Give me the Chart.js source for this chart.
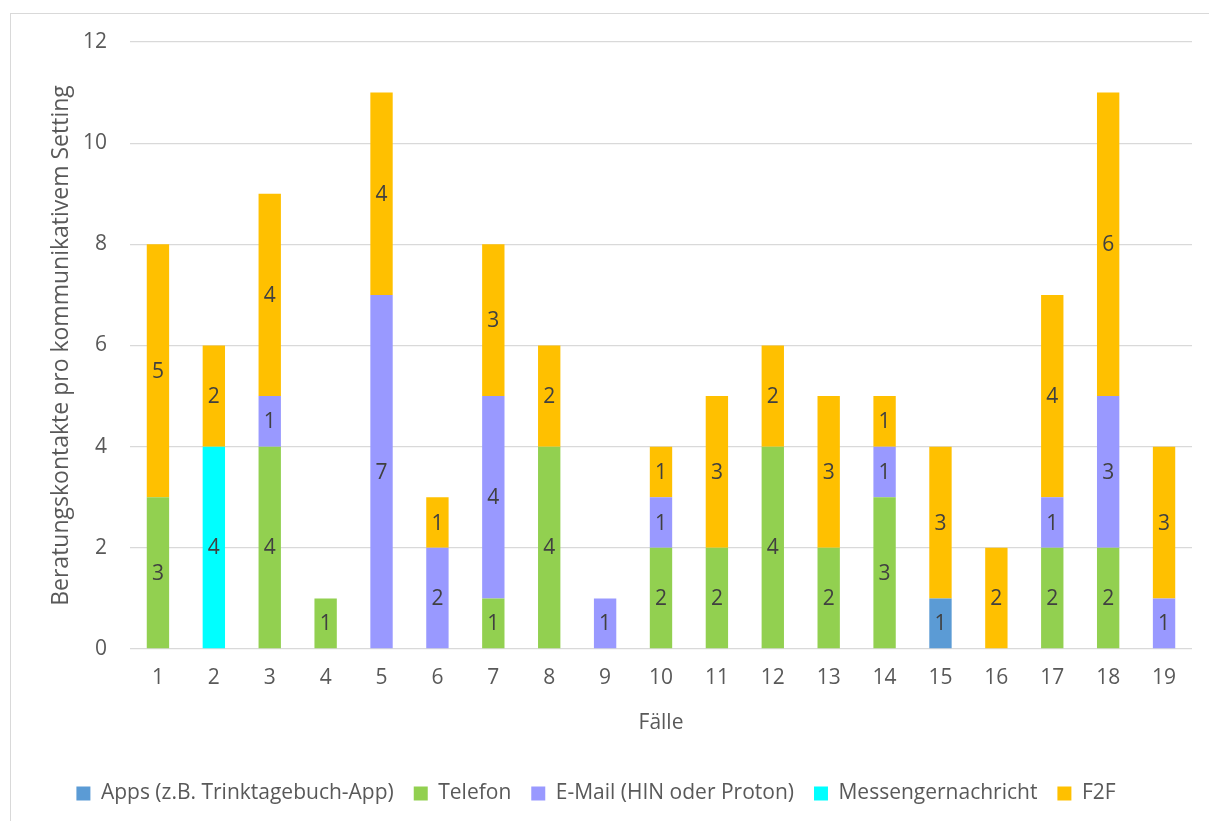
<!DOCTYPE html>
<html>
<head>
<meta charset="utf-8">
<script src="https://cdn.jsdelivr.net/npm/chart.js@4.4.1/dist/chart.umd.min.js"></script>
<style>
  html, body { margin: 0; padding: 0; background: #ffffff; width: 1209px; height: 821px; overflow: hidden; }
  #frame { position: absolute; left: 10px; top: 13px; width: 1300px; height: 900px; border: 1px solid #d9d9d9; box-sizing: border-box; }
  #c { position: absolute; left: 0; top: 0; }
</style>
</head>
<body>
<div id="frame"></div>
<canvas id="c" width="1209" height="821"></canvas>
<script>
// ---- data ----
const cases = ['1','2','3','4','5','6','7','8','9','10','11','12','13','14','15','16','17','18','19'];
const seriesNames = ['Apps (z.B. Trinktagebuch-App)', 'Telefon', 'E-Mail (HIN oder Proton)', 'Messengernachricht', 'F2F'];
const apps      = [0,0,0,0,0,0,0,0,0,0,0,0,0,0,1,0,0,0,0];
const telefon   = [3,0,4,1,0,0,1,4,0,2,2,4,2,3,0,0,2,2,0];
const email     = [0,0,1,0,7,2,4,0,1,1,0,0,0,1,0,0,1,3,1];
const messenger = [0,4,0,0,0,0,0,0,0,0,0,0,0,0,0,0,0,0,0];
const f2f       = [5,2,4,0,4,1,3,2,0,1,3,2,3,1,3,2,4,6,3];
const yTicks = [0,2,4,6,8,10,12];
const xTitle = 'Fälle';
const yTitle = 'Beratungskontakte pro kommunikativem Setting';

// ---- styles ----
const colors = ['#5B9BD5', '#92D050', '#9999FF', '#00FFFF', '#FFC000'];
const FONT = '"Open Sans", "Noto Sans", sans-serif';
const FS = 21;
const textColor = '#595959';

const seriesValues = [apps, telefon, email, messenger, f2f];

const datasets = seriesValues.map((vals, i) => ({
  label: seriesNames[i],
  data: vals,
  backgroundColor: colors[i],
  borderWidth: 0,
  barPercentage: 0.4,
  categoryPercentage: 1.0
}));

const labelPlugin = {
  id: 'barLabels',
  afterDatasetsDraw(chart) {
    const ctx = chart.ctx;
    ctx.save();
    ctx.font = FS + 'px ' + FONT;
    ctx.fillStyle = '#404040';
    ctx.textAlign = 'center';
    ctx.textBaseline = 'middle';
    chart.data.datasets.forEach((ds, di) => {
      const meta = chart.getDatasetMeta(di);
      meta.data.forEach((el, idx) => {
        const v = ds.data[idx];
        if (!v) return;
        const p = el.getProps(['x','y','base'], true);
        ctx.fillText(String(v), p.x, (p.y + p.base) / 2 + 1);
      });
    });
    ctx.restore();
  }
};

const legendFix = {
  id: 'legendFix',
  beforeInit(chart) {
    const lg = chart.legend;
    if (!lg) return;
    const orig = lg.fit;
    lg.fit = function() { orig.call(this); this.height = 58; };
  }
};

new Chart(document.getElementById('c'), {
  type: 'bar',
  data: { labels: cases, datasets },
  options: {
    responsive: false,
    animation: false,
    layout: { padding: { left: 0, right: 17, top: 42, bottom: 0 } },
    plugins: {
      legend: {
        position: 'bottom',
        labels: {
          boxWidth: 14, boxHeight: 14,
          color: textColor,
          font: { family: FONT, size: FS },
          padding: 20
        }
      },
      tooltip: { enabled: false }
    },
    scales: {
      x: {
        stacked: true,
        grid: { display: false, drawTicks: false },
        border: { display: false },
        ticks: { color: textColor, font: { family: FONT, size: FS }, padding: 16, maxRotation: 0 },
        title: { display: true, text: xTitle, color: textColor, font: { family: FONT, size: FS }, padding: { top: 20, bottom: 27 } },
        afterFit(s) { s.height = 114; }
      },
      y: {
        stacked: true,
        min: 0, max: 12,
        afterBuildTicks(s) { s.ticks = yTicks.map(v => ({ value: v })); },
        grid: { color: '#d9d9d9', lineWidth: 1.3, drawTicks: false },
        border: { display: false },
        ticks: { color: textColor, font: { family: FONT, size: FS }, padding: 23 },
        title: { display: true, text: yTitle, color: textColor, font: { family: FONT, size: 23 }, padding: { top: 48, bottom: 0 } },
        afterFit(s) { s.width = 130; }
      }
    }
  },
  plugins: [labelPlugin, legendFix]
});
</script>
</body>
</html>
